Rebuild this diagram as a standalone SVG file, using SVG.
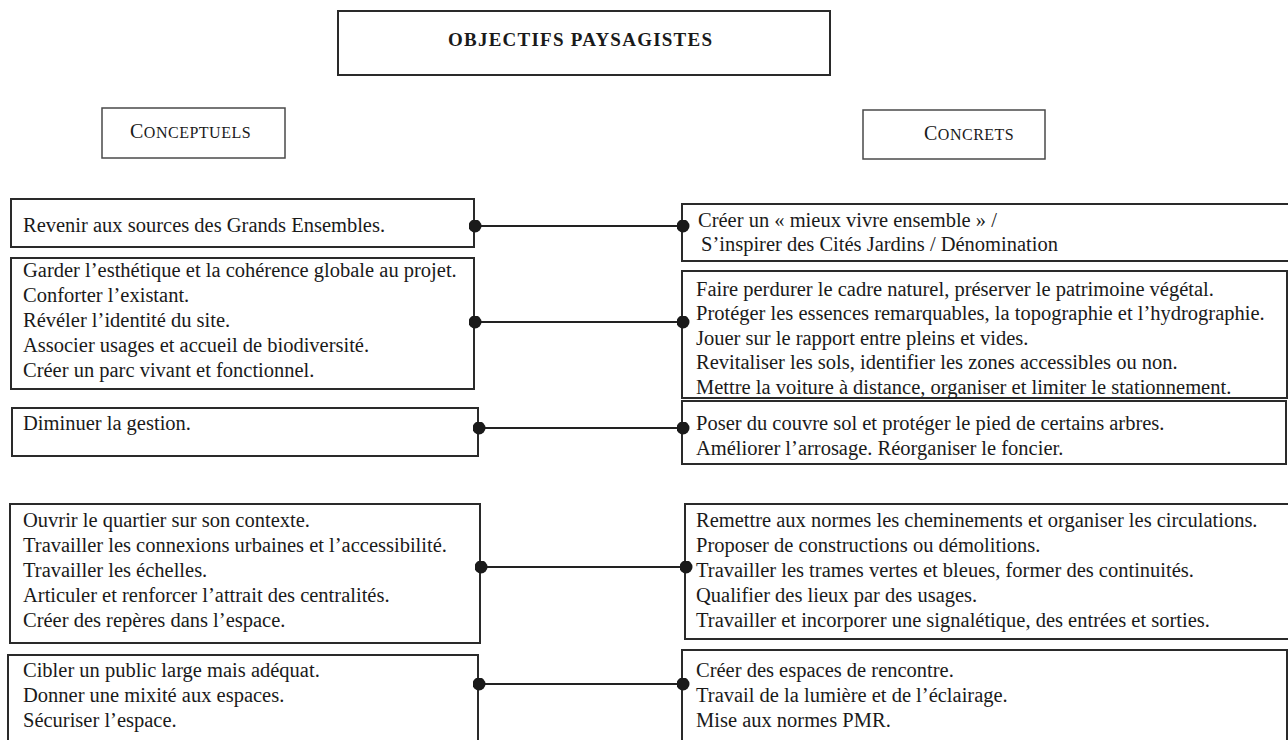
<svg xmlns="http://www.w3.org/2000/svg" width="1288" height="740" viewBox="0 0 1288 740">
<style>
.box{fill:#fff;stroke:#2a2a2a;stroke-width:2}
.hbox{fill:#fff;stroke:#4a4a4a;stroke-width:1.5}
.t{font-family:"Liberation Serif","Times New Roman",serif;font-size:20.5px;fill:#1a1a1a}
.title{font-family:"Liberation Serif","Times New Roman",serif;font-size:19px;font-weight:bold;fill:#1a1a1a}
.sc{font-family:"Liberation Serif","Times New Roman",serif;font-size:20px;fill:#1a1a1a}
.sc tspan.s{font-size:16px}
.conn{stroke:#222;stroke-width:2;fill:none;marker-start:url(#dot);marker-end:url(#dot)}
</style>
<defs>
<marker id="dot" viewBox="0 0 14 14" refX="7" refY="7" markerWidth="13" markerHeight="13" markerUnits="userSpaceOnUse"><circle cx="7" cy="7" r="7" fill="#1a1a1a"/></marker>
</defs>
<rect width="1288" height="740" fill="#fff"/>

<g id="title">
<rect class="box" x="338" y="11" width="492" height="64"/>
<text class="title" x="448" y="46" textLength="264">OBJECTIFS PAYSAGISTES</text>
</g>
<g id="conceptuels">
<rect class="hbox" x="102" y="108" width="183" height="50"/>
<text class="sc" x="130" y="138" letter-spacing="0.5">C<tspan class="s">ONCEPTUELS</tspan></text>
</g>
<g id="concrets">
<rect class="hbox" x="863" y="110" width="182" height="49"/>
<text class="sc" x="924" y="140" letter-spacing="0.5">C<tspan class="s">ONCRETS</tspan></text>
</g>

<g id="L1">
<rect class="box" x="11" y="199" width="463" height="48"/>
<text class="t"><tspan x="23" y="232">Revenir aux sources des Grands Ensembles.</tspan></text>
</g>
<g id="L2">
<rect class="box" x="11" y="258" width="463" height="131"/>
<text class="t">
<tspan x="23" y="277">Garder l’esthétique et la cohérence globale au projet.</tspan>
<tspan x="23" y="302">Conforter l’existant.</tspan>
<tspan x="23" y="327">Révéler l’identité du site.</tspan>
<tspan x="23" y="352">Associer usages et accueil de biodiversité.</tspan>
<tspan x="23" y="377">Créer un parc vivant et fonctionnel.</tspan>
</text>
</g>
<g id="L3">
<rect class="box" x="12" y="408" width="466" height="48"/>
<text class="t"><tspan x="23" y="430">Diminuer la gestion.</tspan></text>
</g>
<g id="L4">
<rect class="box" x="10" y="504" width="470" height="139"/>
<text class="t">
<tspan x="23" y="527">Ouvrir le quartier sur son contexte.</tspan>
<tspan x="23" y="552">Travailler les connexions urbaines et l’accessibilité.</tspan>
<tspan x="23" y="577">Travailler les échelles.</tspan>
<tspan x="23" y="602">Articuler et renforcer l’attrait des centralités.</tspan>
<tspan x="23" y="627">Créer des repères dans l’espace.</tspan>
</text>
</g>
<g id="L5">
<rect class="box" x="8" y="655" width="470" height="110"/>
<text class="t">
<tspan x="23" y="677">Cibler un public large mais adéquat.</tspan>
<tspan x="23" y="702">Donner une mixité aux espaces.</tspan>
<tspan x="23" y="727">Sécuriser l’espace.</tspan>
</text>
</g>

<g id="R1">
<rect class="box" x="682" y="204" width="620" height="57"/>
<text class="t">
<tspan x="698" y="227">Créer un « mieux vivre ensemble » /</tspan>
<tspan x="701" y="251">S’inspirer des Cités Jardins / Dénomination</tspan>
</text>
</g>
<g id="R2">
<rect class="box" x="682" y="271" width="605" height="127"/>
<text class="t">
<tspan x="696" y="296">Faire perdurer le cadre naturel, préserver le patrimoine végétal.</tspan>
<tspan x="696" y="320">Protéger les essences remarquables, la topographie et l’hydrographie.</tspan>
<tspan x="696" y="345">Jouer sur le rapport entre pleins et vides.</tspan>
<tspan x="696" y="369">Revitaliser les sols, identifier les zones accessibles ou non.</tspan>
<tspan x="696" y="394">Mettre la voiture à distance, organiser et limiter le stationnement.</tspan>
</text>
</g>
<g id="R3">
<rect class="box" x="682" y="401" width="604" height="63"/>
<text class="t">
<tspan x="696" y="430">Poser du couvre sol et protéger le pied de certains arbres.</tspan>
<tspan x="696" y="455">Améliorer l’arrosage. Réorganiser le foncier.</tspan>
</text>
</g>
<g id="R4">
<rect class="box" x="685" y="504" width="620" height="135"/>
<text class="t">
<tspan x="696" y="527">Remettre aux normes les cheminements et organiser les circulations.</tspan>
<tspan x="696" y="552">Proposer de constructions ou démolitions.</tspan>
<tspan x="696" y="577">Travailler les trames vertes et bleues, former des continuités.</tspan>
<tspan x="696" y="602">Qualifier des lieux par des usages.</tspan>
<tspan x="696" y="627">Travailler et incorporer une signalétique, des entrées et sorties.</tspan>
</text>
</g>
<g id="R5">
<rect class="box" x="682" y="650" width="605" height="110"/>
<text class="t">
<tspan x="696" y="677">Créer des espaces de rencontre.</tspan>
<tspan x="696" y="702">Travail de la lumière et de l’éclairage.</tspan>
<tspan x="696" y="727">Mise aux normes PMR.</tspan>
</text>
</g>

<g id="connectors">
<line class="conn" x1="475" y1="226" x2="683" y2="226"/>
<line class="conn" x1="475" y1="322" x2="683" y2="322"/>
<line class="conn" x1="479" y1="428" x2="683" y2="428"/>
<line class="conn" x1="481" y1="567" x2="686" y2="567"/>
<line class="conn" x1="479" y1="684" x2="683" y2="684"/>
</g>
</svg>
